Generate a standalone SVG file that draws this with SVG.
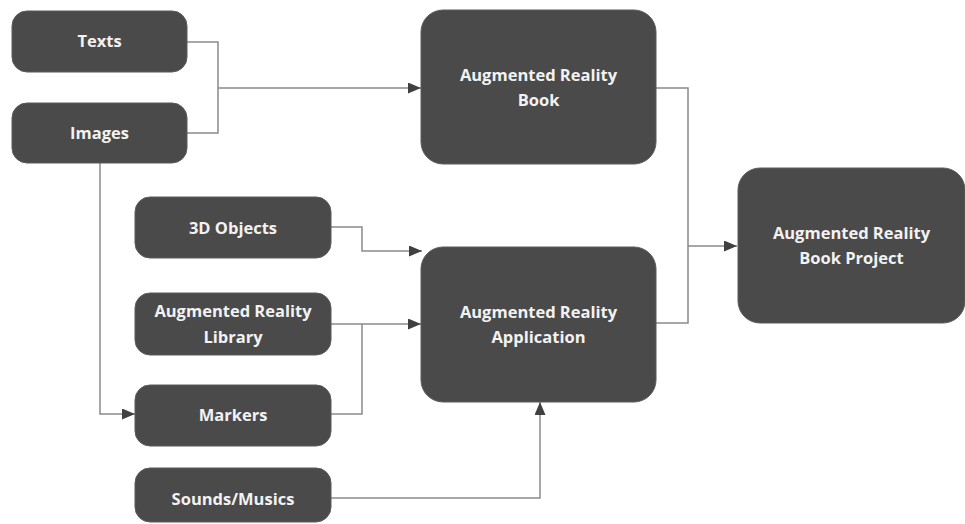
<svg xmlns="http://www.w3.org/2000/svg" width="965" height="524" viewBox="0 0 965 524">
<defs>
<style>
.box{fill:#4a4a4a;stroke:#5a5a5a;stroke-width:1}
.lbl{fill:#f2f2f2;font-family:"Open Sans","DejaVu Sans",sans-serif;font-weight:700;font-size:16.5px;text-anchor:middle}
.ln{fill:none;stroke:#8a8a8a;stroke-width:1.5}
</style>
<marker id="ah" markerWidth="13" markerHeight="11" refX="13" refY="5.5" orient="auto" markerUnits="userSpaceOnUse">
<path d="M0,0 L13,5.5 L0,11 Z" fill="#404040"/>
</marker>
</defs>
<rect width="965" height="524" fill="#ffffff"/>
<g id="connectors">
<path class="ln" d="M187,42 H218 V133 H187"/>
<path class="ln" d="M218,88 H421" marker-end="url(#ah)"/>
<path class="ln" d="M100,163 V414 H135" marker-end="url(#ah)"/>
<path class="ln" d="M331,227 H362 V251 H422" marker-end="url(#ah)"/>
<path class="ln" d="M331,324 H421" marker-end="url(#ah)"/>
<path class="ln" d="M331,414 H362 V324"/>
<path class="ln" d="M331,498 H540 V402" marker-end="url(#ah)"/>
<path class="ln" d="M656,88 H688 V323 H656"/>
<path class="ln" d="M688,246 H737" marker-end="url(#ah)"/>
</g>
<g id="texts"><rect class="box" x="12" y="11" width="175" height="61" rx="15"/><text class="lbl" x="99.5" y="47">Texts</text></g>
<g id="images"><rect class="box" x="12" y="103" width="175" height="60" rx="15"/><text class="lbl" x="99.5" y="139">Images</text></g>
<g id="objects3d"><rect class="box" x="135" y="197" width="196" height="61" rx="15"/><text class="lbl" x="233" y="234">3D Objects</text></g>
<g id="library"><rect class="box" x="135" y="293" width="196" height="62" rx="15"/><text class="lbl" x="233" y="317">Augmented Reality</text><text class="lbl" x="233" y="343">Library</text></g>
<g id="markers"><rect class="box" x="135" y="385" width="196" height="61" rx="15"/><text class="lbl" x="233" y="421">Markers</text></g>
<g id="sounds"><rect class="box" x="135" y="468" width="196" height="54" rx="15"/><text class="lbl" x="233" y="505">Sounds/Musics</text></g>
<g id="arbook"><rect class="box" x="421" y="10" width="235" height="154" rx="22"/><text class="lbl" x="538.5" y="81">Augmented Reality</text><text class="lbl" x="538.5" y="106">Book</text></g>
<g id="arapp"><rect class="box" x="421" y="247" width="235" height="155" rx="22"/><text class="lbl" x="538.5" y="318">Augmented Reality</text><text class="lbl" x="538.5" y="343">Application</text></g>
<g id="arproject"><rect class="box" x="738" y="168" width="227" height="155" rx="22"/><text class="lbl" x="851.5" y="239">Augmented Reality</text><text class="lbl" x="851.5" y="264">Book Project</text></g>
</svg>
